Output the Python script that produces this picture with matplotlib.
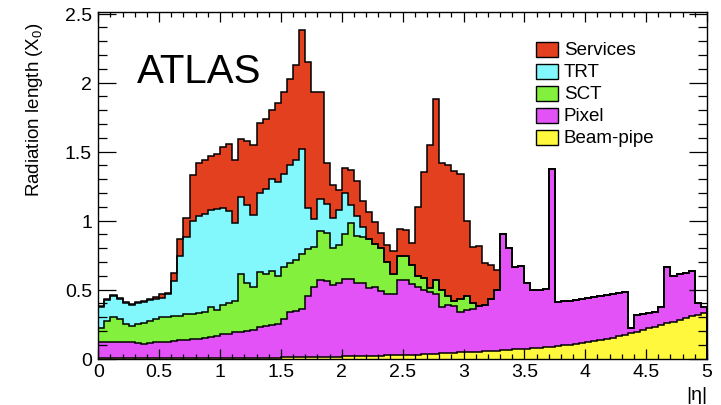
import numpy as np
import matplotlib
matplotlib.use("Agg")
import matplotlib.pyplot as plt
from matplotlib.patches import Rectangle

plt.rcParams['font.family'] = ['Liberation Sans', 'DejaVu Sans']
plt.rcParams['mathtext.fontset'] = 'custom'
plt.rcParams['mathtext.rm'] = 'Liberation Sans'

# |eta| binning, 0.05 wide
eta_edges = np.linspace(0.0, 5.0, 101)

# upper edge of each layer in the stack (radiation length, X0)
beam_pipe = [
    0.004, 0.004, 0.004, 0.004, 0.004, 0.004, 0.004, 0.004, 0.004, 0.004,
    0.004, 0.004, 0.004, 0.004, 0.004, 0.004, 0.004, 0.004, 0.004, 0.004,
    0.006, 0.006, 0.006, 0.006, 0.006, 0.006, 0.006, 0.006, 0.006, 0.006,
    0.010, 0.010, 0.011, 0.011, 0.012, 0.012, 0.013, 0.013, 0.014, 0.014,
    0.015, 0.016, 0.017, 0.018, 0.019, 0.020, 0.021, 0.022, 0.023, 0.024,
    0.025, 0.027, 0.029, 0.031, 0.033, 0.035, 0.037, 0.040, 0.042, 0.044,
    0.046, 0.048, 0.050, 0.053, 0.055, 0.058, 0.060, 0.063, 0.066, 0.069,
    0.072, 0.075, 0.079, 0.083, 0.087, 0.091, 0.096, 0.101, 0.107, 0.113,
    0.120, 0.127, 0.135, 0.143, 0.152, 0.161, 0.171, 0.182, 0.193, 0.205,
    0.218, 0.230, 0.242, 0.254, 0.266, 0.279, 0.292, 0.305, 0.318, 0.330,
]
pixel_top = [
    0.117, 0.117, 0.120, 0.120, 0.117, 0.117, 0.115, 0.107, 0.115, 0.118,
    0.120, 0.122, 0.128, 0.133, 0.135, 0.140, 0.145, 0.150, 0.155, 0.160,
    0.175, 0.180, 0.190, 0.195, 0.200, 0.205, 0.225, 0.235, 0.245, 0.250,
    0.290, 0.335, 0.345, 0.360, 0.450, 0.520, 0.570, 0.560, 0.530, 0.545,
    0.580, 0.580, 0.550, 0.550, 0.510, 0.520, 0.490, 0.470, 0.465, 0.570,
    0.570, 0.540, 0.520, 0.500, 0.480, 0.470, 0.370, 0.390, 0.380, 0.340,
    0.350, 0.360, 0.380, 0.390, 0.430, 0.500, 0.900, 0.800, 0.660, 0.670,
    0.550, 0.500, 0.500, 0.505, 1.375, 0.413, 0.415, 0.420, 0.425, 0.430,
    0.437, 0.445, 0.450, 0.460, 0.468, 0.475, 0.483, 0.220, 0.318, 0.320,
    0.330, 0.335, 0.370, 0.660, 0.600, 0.610, 0.620, 0.635, 0.400, 0.375,
]
# SCT, TRT and services only where they add material; beyond that the
# layer sits on the one below
sct_top = [
    0.220, 0.270, 0.300, 0.290, 0.250, 0.238, 0.250, 0.258, 0.272, 0.285,
    0.300, 0.300, 0.305, 0.310, 0.320, 0.320, 0.330, 0.335, 0.370, 0.350,
    0.385, 0.400, 0.420, 0.610, 0.550, 0.520, 0.630, 0.615, 0.635, 0.600,
    0.660, 0.690, 0.715, 0.760, 0.795, 0.810, 0.925, 0.910, 0.800, 0.820,
    0.900, 0.980, 0.890, 0.880, 0.870, 0.830, 0.800, 0.700, 0.610, 0.740,
    0.740, 0.680, 0.595, 0.585, 0.510, 0.570, 0.500, 0.455, 0.420, 0.430,
    0.450, 0.400,
]
trt_top = [
    0.375, 0.425, 0.450, 0.435, 0.400, 0.390, 0.400, 0.413, 0.425, 0.435,
    0.440, 0.465, 0.560, 0.740, 0.880, 1.000, 1.036, 1.045, 1.075, 1.085,
    1.090, 1.070, 0.980, 1.170, 1.110, 1.040, 1.200, 1.230, 1.300, 1.280,
    1.335, 1.400, 1.440, 1.520, 1.090, 1.010, 1.160, 1.120, 1.020, 1.080,
    1.200, 1.110, 1.030, 0.950,
]
services_top = [
    0.382, 0.432, 0.458, 0.442, 0.407, 0.397, 0.407, 0.420, 0.432, 0.445,
    0.470, 0.472, 0.620, 0.870, 1.020, 1.330, 1.420, 1.440, 1.470, 1.480,
    1.530, 1.556, 1.440, 1.590, 1.580, 1.550, 1.710, 1.740, 1.800, 1.850,
    1.930, 2.030, 2.130, 2.380, 2.150, 1.930, 1.930, 1.420, 1.260, 1.220,
    1.380, 1.370, 1.290, 1.140, 1.060, 0.990, 0.910, 0.820, 0.780, 0.940,
    0.930, 0.840, 1.100, 1.350, 1.550, 1.880, 1.420, 1.400, 1.360, 1.340,
    1.000, 0.810, 0.815, 0.690, 0.680, 0.640,
]

labels = ['Beam-pipe', 'Pixel', 'SCT', 'TRT', 'Services']
colors = ['#fff83c', '#e252f6', '#82f03c', '#82f8fc', '#e2401e']


def extend(top, below):
    top = np.asarray(top, dtype=float)
    return np.concatenate([top, below[len(top):]])


beam = np.asarray(beam_pipe)
pix = extend(pixel_top, beam)
sct = extend(sct_top, pix)
trt = extend(trt_top, sct)
srv = extend(services_top, trt)
layers = [beam, pix, sct, trt, srv]

fig = plt.figure(figsize=(7.21, 4.06), dpi=100)
ax = fig.add_axes([0.1363, 0.1145, 0.8443, 0.8527])

lower = np.zeros_like(beam)
for top, col in zip(layers, colors):
    ax.stairs(top, eta_edges, baseline=lower, fill=True, color=col, lw=0)
    lower = top
for top in layers:
    ax.stairs(top, eta_edges, color='black', lw=1.1)

ax.set_xlim(0, 5)
ax.set_ylim(0, 2.51)
ax.set_xticks(np.arange(0, 5.01, 0.5))
ax.set_xticklabels(['0', '0.5', '1', '1.5', '2', '2.5', '3', '3.5', '4', '4.5', '5'])
ax.set_xticks(np.arange(0, 5.01, 0.1), minor=True)
ax.set_yticks(np.arange(0, 2.51, 0.5))
ax.set_yticklabels(['0', '0.5', '1', '1.5', '2', '2.5'])
ax.set_yticks(np.arange(0, 2.51, 0.1), minor=True)

ax.tick_params(axis='both', which='both', direction='in', top=True, right=True,
               labelsize=14, width=0.9)
ax.tick_params(axis='x', which='major', length=7, pad=3.5)
ax.tick_params(axis='x', which='minor', length=3.5)
ax.tick_params(axis='y', which='major', length=13, pad=4.5)
ax.tick_params(axis='y', which='minor', length=6.5)
for sp in ax.spines.values():
    sp.set_linewidth(1.0)

ax.set_ylabel(r'Radiation length (X$_{\mathregular{0}}$)', fontsize=13.5, loc='top')
ax.yaxis.set_label_coords(-0.088, 0.975)
ax.set_xlabel('|η|', fontsize=14, loc='right', labelpad=4)

ax.text(0.318, 2.006, 'ATLAS', fontsize=29, va='baseline', ha='left')

# legend, top entry drawn last in the stack
for k, (lab, col) in enumerate(zip(labels[::-1], colors[::-1])):
    yc = 0.892 - 0.0635 * k
    ax.add_patch(Rectangle((0.7187, yc - 0.0217), 0.0361, 0.0433,
                           transform=ax.transAxes, facecolor=col,
                           edgecolor='black', lw=1.0, clip_on=False))
    ax.text(0.7649, yc, lab, transform=ax.transAxes, fontsize=13.5,
            va='center', ha='left')

fig.savefig('out.png', dpi=100)
